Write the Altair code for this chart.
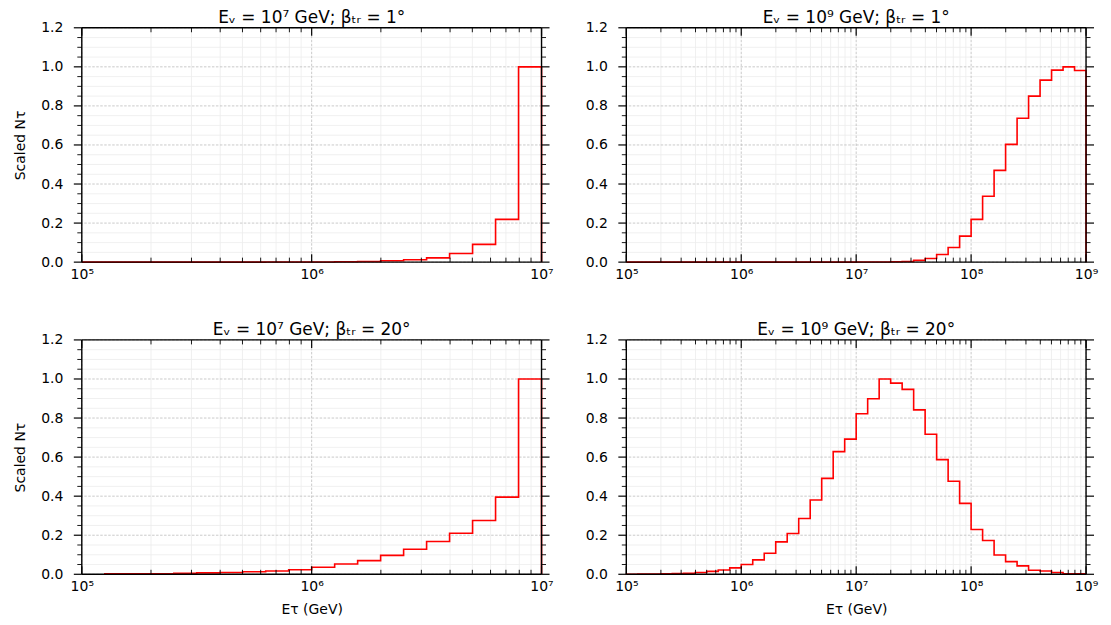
import altair as alt
import pandas as pd

# ---------------- data ----------------
# Scaled N_tau per 0.1-decade bin of E_tau (GeV); first bin starts at 10**start
tl_start = 5.0
tl_vals = [0, 0, 0, 0, 0, 0, 0, 0.0002, 0.0004, 0.0007,
           0.001, 0.002, 0.003, 0.007, 0.012, 0.022, 0.044, 0.091, 0.219, 1.0]

tr_start = 5.0
tr_vals = [0, 0, 0, 0, 0, 0, 0, 0, 0, 0,
           0, 0, 0, 0, 0, 0, 0, 0, 0, 0,
           0.0005, 0.001, 0.001, 0.002, 0.003, 0.009, 0.019, 0.039, 0.075, 0.133,
           0.219, 0.337, 0.470, 0.603, 0.737, 0.850, 0.932, 0.983, 1.0, 0.981]

bl_start = 5.1
bl_vals = [0.002, 0.002, 0.003, 0.005, 0.007, 0.009, 0.013, 0.017, 0.023,
           0.036, 0.053, 0.070, 0.097, 0.128, 0.168, 0.210, 0.275, 0.395, 1.0]

br_start = 5.0
br_vals = [0.0005, 0.0008, 0.0015, 0.002, 0.004, 0.005, 0.009, 0.015, 0.022, 0.033,
           0.050, 0.074, 0.108, 0.166, 0.209, 0.286, 0.380, 0.491, 0.628, 0.692,
           0.822, 0.899, 1.0, 0.979, 0.947, 0.842, 0.717, 0.587, 0.476, 0.363,
           0.229, 0.173, 0.099, 0.065, 0.043, 0.021, 0.017, 0.009, 0.002, 0.002]

titles = [
    "Eᵥ = 10⁷ GeV; βₜᵣ = 1°",
    "Eᵥ = 10⁹ GeV; βₜᵣ = 1°",
    "Eᵥ = 10⁷ GeV; βₜᵣ = 20°",
    "Eᵥ = 10⁹ GeV; βₜᵣ = 20°",
]
y_title = "Scaled Nτ"
x_title = "Eτ (GeV)"

y_major = [0.0, 0.2, 0.4, 0.6, 0.8, 1.0, 1.2]
y_minor = [0.05, 0.1, 0.15, 0.25, 0.3, 0.35, 0.45, 0.5, 0.55, 0.65, 0.7, 0.75,
           0.85, 0.9, 0.95, 1.05, 1.1, 1.15]

W, H = 461, 235
FONT = "DejaVu Sans"
MAJOR_GRID = "#bdbdbd"
MINOR_GRID = "#ececec"

SUP = ("'10' + (datum.value < 5e5 ? '⁵' : datum.value < 5e6 ? '⁶' : "
       "datum.value < 5e7 ? '⁷' : datum.value < 5e8 ? '⁸' : '⁹')")


def step_frame(vals, start):
    edges = [10 ** (start + 0.1 * i) for i in range(len(vals) + 1)]
    xs = [edges[0]] + edges[:-1] + [edges[-1], edges[-1]]
    ys = [0] + list(vals) + [vals[-1], 0]
    return pd.DataFrame({"x": xs, "y": ys, "o": list(range(len(xs)))})


def panel(vals, start, dmax, title, ytitle, xtitle):
    xmax = 10 ** dmax
    x_major = [10 ** d for d in range(5, dmax + 1)]
    x_minor = [k * 10 ** d for d in range(5, dmax) for k in range(2, 10)]
    xscale = alt.Scale(type="log", domain=[1e5, xmax], nice=False)
    yscale = alt.Scale(domain=[0, 1.2], nice=False, zero=False)

    xaxis = alt.Axis(
        values=x_major, labelExpr=SUP,
        ticks=False, domain=False, grid=False, labelPadding=5,
        labelOverlap=False, labelFlush=False,
        title=x_title if xtitle else "", titlePadding=9,
    )
    yaxis = alt.Axis(
        values=y_major, format=".1f",
        ticks=False, domain=False, grid=False, labelPadding=19,
        labelOverlap=False, labelFlush=False,
        title=y_title if ytitle else "", titlePadding=13,
    )

    def X(f):
        return alt.X(f, type="quantitative", scale=xscale, axis=xaxis)

    def Y(f):
        return alt.Y(f, type="quantitative", scale=yscale, axis=yaxis)

    xmaj_df = pd.DataFrame({"t": x_major})
    xmin_df = pd.DataFrame({"t": x_minor})
    ymaj_df = pd.DataFrame({"t": y_major})
    ymin_df = pd.DataFrame({"t": y_minor})

    grids = [
        alt.Chart(xmin_df).mark_rule(color=MINOR_GRID, strokeWidth=0.8).encode(x=X("t")),
        alt.Chart(ymin_df).mark_rule(color=MINOR_GRID, strokeWidth=0.8).encode(y=Y("t")),
        alt.Chart(xmaj_df).mark_rule(color=MAJOR_GRID, strokeWidth=0.8, strokeDash=[2.5, 1.5]).encode(x=X("t")),
        alt.Chart(ymaj_df).mark_rule(color=MAJOR_GRID, strokeWidth=0.8, strokeDash=[2.5, 1.5]).encode(y=Y("t")),
    ]

    df = step_frame(vals, start)
    line = alt.Chart(df).mark_line(color="#ff0000", strokeWidth=1.6, interpolate="step-after").encode(
        x=X("x"), y=Y("y"), order="o:Q",
    )

    def xticks(d, y0, y1, w):
        return alt.Chart(d).mark_rule(color="black", strokeWidth=w).encode(
            x=X("t"), y=alt.value(y0), y2=alt.value(y1))

    def yticks(d, x0, x1, w):
        return alt.Chart(d).mark_rule(color="black", strokeWidth=w).encode(
            y=Y("t"), x=alt.value(x0), x2=alt.value(x1))

    ticks = [
        xticks(xmaj_df, H, H - 8, 1.2), xticks(xmin_df, H, H - 4.5, 0.9),
        xticks(xmaj_df, 0, 8, 1.2), xticks(xmin_df, 0, 4.5, 0.9),
        yticks(ymaj_df, 0, -8, 1.2), yticks(ymin_df, 0, -4.5, 0.9),
        yticks(ymaj_df, W, W + 8, 1.2), yticks(ymin_df, W, W + 4.5, 0.9),
    ]

    frame_df = pd.DataFrame({"a": [0]})
    frame = [
        alt.Chart(frame_df).mark_rule(color="black", strokeWidth=1.4).encode(
            x=alt.value(0), x2=alt.value(W), y=alt.value(0)),
        alt.Chart(frame_df).mark_rule(color="black", strokeWidth=1.4).encode(
            x=alt.value(0), x2=alt.value(W), y=alt.value(H)),
        alt.Chart(frame_df).mark_rule(color="black", strokeWidth=1.4).encode(
            y=alt.value(0), y2=alt.value(H), x=alt.value(0)),
        alt.Chart(frame_df).mark_rule(color="black", strokeWidth=1.4).encode(
            y=alt.value(0), y2=alt.value(H), x=alt.value(W)),
    ]

    return alt.layer(*grids, line, *ticks, *frame).properties(
        width=W, height=H,
        title=alt.TitleParams(title, fontSize=17, font=FONT, fontWeight="normal",
                              color="black", offset=-6, frame="group"),
    )


p_tl = panel(tl_vals, tl_start, 7, titles[0], True, False)
p_tr = panel(tr_vals, tr_start, 9, titles[1], False, False)
p_bl = panel(bl_vals, bl_start, 7, titles[2], True, True)
p_br = panel(br_vals, br_start, 9, titles[3], False, True)

chart = alt.vconcat(
    alt.hconcat(p_tl, p_tr, spacing=31),
    alt.hconcat(p_bl, p_br, spacing=31),
    spacing=40,
).properties(
    padding={"left": 5, "top": 0, "right": 5, "bottom": 0},
).configure(background="white").configure_view(stroke=None).configure_axis(
    labelFont=FONT, labelFontSize=14, labelColor="black",
    titleFont=FONT, titleFontSize=14, titleFontWeight="normal", titleColor="black",
)

chart.save("out.html", embed_options={"renderer": "svg", "actions": False})
